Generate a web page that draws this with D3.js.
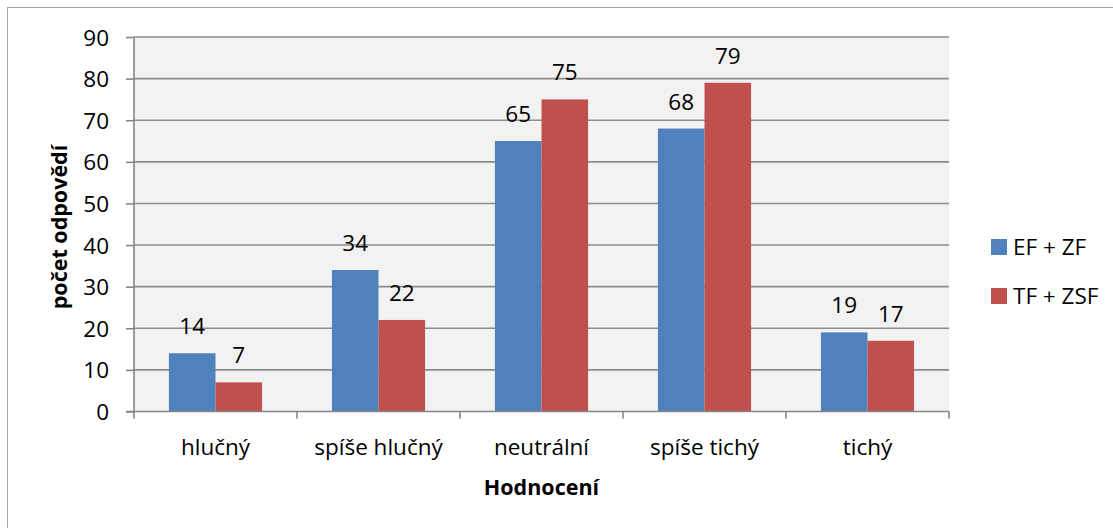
<!DOCTYPE html>
<html>
<head>
<meta charset="utf-8">
<script src="https://cdn.jsdelivr.net/npm/d3@7"></script>
<style>
  body { margin: 0; background: #fff; }
  text { font-family: "Open Sans", "Noto Sans", sans-serif; fill: #000; }
</style>
</head>
<body>
<div id="chart"></div>
<script>
const svgWidth = 1113;
const svgHeight = 528;

// data
const categories = ["hlučný", "spíše hlučný", "neutrální", "spíše tichý", "tichý"];
const seriesNames = ["EF + ZF", "TF + ZSF"];
const efZf = [14, 34, 65, 68, 19];
const tfZsf = [7, 22, 75, 79, 17];
const yTicks = [0, 10, 20, 30, 40, 50, 60, 70, 80, 90];
const colors = ["#4f81bd", "#c0504d"];

const plot = { left: 134, right: 949, top: 37, bottom: 411.5 };
const fs = "22.5px";

const svg = d3.select("#chart")
  .append("svg")
  .attr("width", svgWidth)
  .attr("height", svgHeight);

// outer frame
svg.append("rect")
  .attr("x", 7.5).attr("y", 7.5)
  .attr("width", 1120).attr("height", 540)
  .attr("fill", "none")
  .attr("stroke", "#a6a6a6");

// plot background
svg.append("rect")
  .attr("x", plot.left).attr("y", plot.top)
  .attr("width", plot.right - plot.left)
  .attr("height", plot.bottom - plot.top)
  .attr("fill", "#f2f2f2");

const x0 = d3.scaleBand()
  .domain(categories)
  .range([plot.left, plot.right])
  .padding(0);

const x1 = d3.scaleBand()
  .domain(seriesNames)
  .range([0, x0.bandwidth()])
  .paddingInner(0)
  .paddingOuter(0.75);

const y = d3.scaleLinear()
  .domain([0, 90])
  .range([plot.bottom, plot.top]);

// gridlines
svg.append("g")
  .selectAll("line")
  .data(yTicks.filter(d => d > 0))
  .enter()
  .append("line")
  .attr("x1", plot.left).attr("x2", plot.right)
  .attr("y1", d => y(d)).attr("y2", d => y(d))
  .attr("stroke", "#8c8c8c")
  .attr("stroke-width", 1.6);

// bars
const rows = categories.map((c, i) => ({ cat: c, vals: [efZf[i], tfZsf[i]] }));

const groups = svg.append("g")
  .selectAll("g")
  .data(rows)
  .enter()
  .append("g")
  .attr("transform", d => `translate(${x0(d.cat)},0)`);

groups.selectAll("rect")
  .data(d => d.vals.map((v, j) => ({ name: seriesNames[j], v: v, j: j })))
  .enter()
  .append("rect")
  .attr("x", d => x1(d.name))
  .attr("y", d => y(d.v))
  .attr("width", x1.bandwidth())
  .attr("height", d => plot.bottom - y(d.v))
  .attr("fill", d => colors[d.j]);

groups.selectAll("text")
  .data(d => d.vals.map((v, j) => ({ name: seriesNames[j], v: v })))
  .enter()
  .append("text")
  .attr("x", d => x1(d.name) + x1.bandwidth() / 2)
  .attr("y", d => y(d.v) - 19)
  .attr("text-anchor", "middle")
  .style("font-size", fs)
  .text(d => d.v);

// y axis
const leftAxis = d3.axisLeft(y).tickValues(yTicks).tickSize(8).tickPadding(17);
const yAxis = svg.append("g")
  .attr("transform", `translate(${plot.left},0)`)
  .call(leftAxis);
yAxis.select(".domain").attr("stroke", "#868686").attr("stroke-width", 1.6)
  .attr("d", `M0,${plot.top}V${plot.bottom}`);
yAxis.selectAll(".tick line").attr("stroke", "#868686").attr("stroke-width", 1.6);
yAxis.selectAll(".tick text")
  .style("font-size", fs)
  .style("font-family", "'Open Sans', sans-serif")
  .attr("dy", "0.36em");

// x axis
const xAxisG = svg.append("g")
  .attr("transform", `translate(0,${plot.bottom})`);
xAxisG.append("line")
  .attr("x1", plot.left - 8).attr("x2", plot.right)
  .attr("stroke", "#868686").attr("stroke-width", 1.6);
xAxisG.selectAll(".sep")
  .data(d3.range(categories.length + 1))
  .enter()
  .append("line")
  .attr("x1", i => plot.left + i * x0.step())
  .attr("x2", i => plot.left + i * x0.step())
  .attr("y1", 0).attr("y2", 7)
  .attr("stroke", "#868686").attr("stroke-width", 1.6);
xAxisG.selectAll(".lab")
  .data(categories)
  .enter()
  .append("text")
  .attr("x", d => x0(d) + x0.bandwidth() / 2)
  .attr("y", 43)
  .attr("text-anchor", "middle")
  .style("font-size", fs)
  .text(d => d);

// axis titles
svg.append("text")
  .attr("x", (plot.left + plot.right) / 2)
  .attr("y", 495)
  .attr("text-anchor", "middle")
  .style("font-size", "21.5px")
  .style("font-weight", "bold")
  .text("Hodnocení");

svg.append("text")
  .attr("transform", `translate(67,227) rotate(-90)`)
  .attr("text-anchor", "middle")
  .style("font-size", "21.5px")
  .style("font-weight", "bold")
  .text("počet odpovědí");

// legend
const legend = svg.append("g")
  .selectAll("g")
  .data(seriesNames)
  .enter()
  .append("g")
  .attr("transform", (d, i) => `translate(991,${239 + i * 49})`);
legend.append("rect")
  .attr("width", 16).attr("height", 16)
  .attr("fill", (d, i) => colors[i]);
legend.append("text")
  .attr("x", 22).attr("y", 8)
  .attr("dy", "0.36em")
  .style("font-size", fs)
  .text(d => d);
</script>
</body>
</html>
